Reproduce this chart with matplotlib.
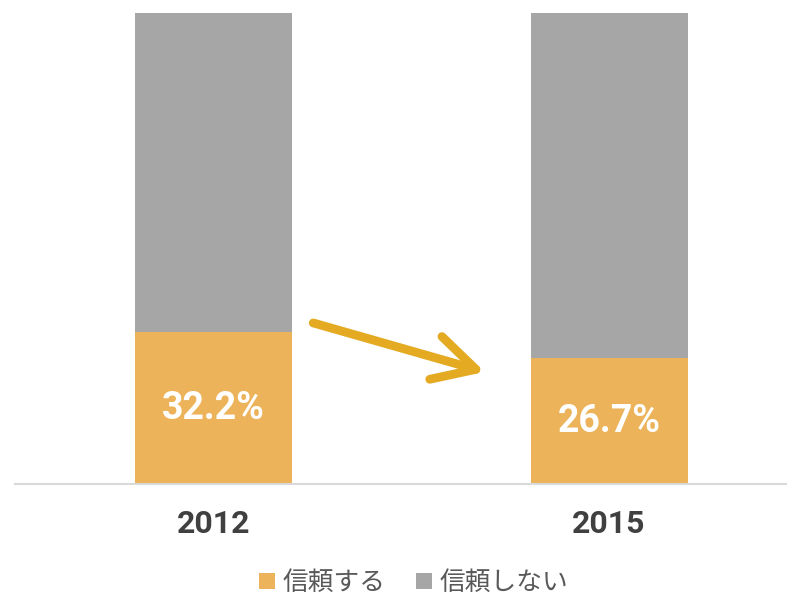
import matplotlib
matplotlib.use("Agg")
import matplotlib.pyplot as plt
from matplotlib.patches import FancyArrowPatch
import numpy as np

# データ（信頼する / 信頼しない, %）
years = ["2012", "2015"]
trust = [32.2, 26.7]
no_trust = [67.8, 73.3]
labels = ["信頼する", "信頼しない"]

col_trust = "#ECB35B"
col_no = "#A6A6A6"
col_arrow = "#E3AA22"

W, H = 787, 596
fig = plt.figure(figsize=(W / 100, H / 100), dpi=100)
# 軸の位置（ピクセルから）
ax = fig.add_axes([15 / W, (H - 484) / H, (787 - 15) / W, (484 - 13) / H])

x = np.arange(len(years))
ax.bar(x, trust, width=0.397, color=col_trust, label=labels[0])
ax.bar(x, no_trust, width=0.397, bottom=trust, color=col_no, label=labels[1])

ax.set_xlim(-0.502, 1.45)
ax.set_ylim(0, 100)

# 値ラベル
for i, v in enumerate(trust):
    ax.text(x[i], v / 2, f"{v}%", ha="center", va="center", color="white",
            fontsize=27, fontweight="bold", family="Roboto")

for s in ["top", "left", "right"]:
    ax.spines[s].set_visible(False)
ax.spines["bottom"].set_color("#D9D9D9")
ax.spines["bottom"].set_linewidth(1.5)
ax.set_yticks([])
ax.set_xticks(x)
ax.set_xticklabels(years, fontsize=23, fontweight="bold", family="Roboto", color="#404040")
ax.tick_params(axis="x", length=0, pad=18)

# 矢印（2012 → 2015）
arr = FancyArrowPatch((0.252, 34.2), (0.686, 23.8),
                      arrowstyle="->,head_length=30,head_width=16",
                      mutation_scale=1, color=col_arrow, lw=6.3,
                      shrinkA=0, shrinkB=0,
                      capstyle="round", joinstyle="round")
ax.add_patch(arr)

fig.legend(loc="center", bbox_to_anchor=(413.5 / W, 1 - 583 / H), ncol=2, frameon=False,
           prop={"family": ["Noto Sans CJK JP", "DejaVu Sans"], "size": 18.5},
           labelcolor="#595959", handlelength=0.62, handleheight=0.62,
           handletextpad=0.3, columnspacing=1.2)

fig.savefig("out.png", dpi=100)
